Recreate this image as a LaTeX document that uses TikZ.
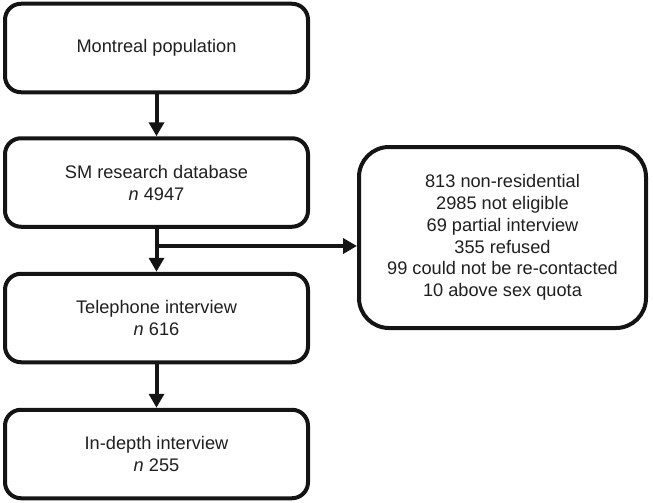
\documentclass[tikz,border=0pt]{standalone}
\usepackage{fontspec}
\setmainfont{Liberation Sans}
\usetikzlibrary{arrows.meta}
\begin{document}
\begin{tikzpicture}[x=1pt,y=-1pt,
  flowbox/.style={draw=black!92, line width=4pt, rounded corners=16pt,
    minimum width=303pt, minimum height=88.5pt, align=center,
    font=\fontsize{18.2}{22}\selectfont, text=black!88, inner sep=0pt},
  sidebox/.style={draw=black!92, line width=4pt, rounded corners=30pt,
    minimum width=287pt, minimum height=181pt, align=center,
    font=\fontsize{18.2}{21.8}\selectfont, text=black!88, inner sep=0pt},
  flowarrow/.style={draw=black!92, line width=4pt,
    -{Triangle[length=14pt,width=15pt]}}]
\useasboundingbox (0,0) rectangle (653,503);
\node[flowbox] (pop) at (156.5,48) {Montreal population};
\node[flowbox] (db) at (156.5,182.5) {SM research database\\\textit{n} 4947};
\node[flowbox] (tel) at (156.5,318) {Telephone interview\\\textit{n} 616};
\node[flowbox] (dep) at (156.5,454) {In-depth interview\\\textit{n} 255};
\node[sidebox] (excl) at (502.5,237.5) {813 non-residential\\2985 not eligible\\69 partial interview\\355 refused\\99 could not be re-contacted\\10 above sex quota};
\draw[flowarrow] (pop) -- (db);
\draw[flowarrow] (db) -- (tel);
\draw[flowarrow] (tel) -- (dep);
\coordinate (split) at (156.5,246);
\draw[flowarrow] ([xshift=-2pt]split) -- (split -| excl.west);
\end{tikzpicture}
\end{document}
